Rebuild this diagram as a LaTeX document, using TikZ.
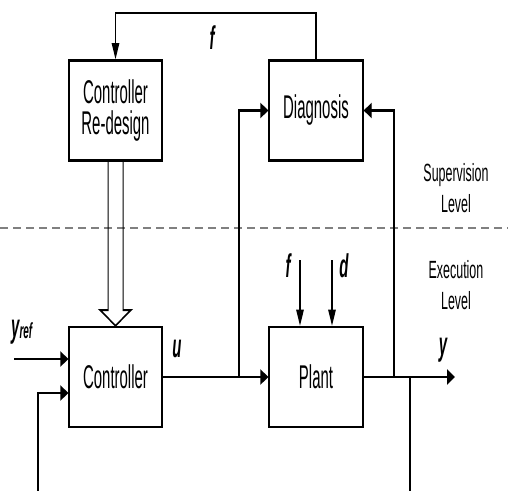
\documentclass[tikz,border=0pt]{standalone}
\usepackage{fontspec}
\setmainfont{Liberation Sans}
\usetikzlibrary{arrows.meta,calc}
\newcommand\stx[1]{\scalebox{1}[1.1]{#1}}
\tikzset{
  x=1bp, y=1bp,
  blk/.style={draw, line width=1.3bp, inner sep=0pt, minimum width=93bp, minimum height=50bp,
    font=\fontsize{15}{15.5}\selectfont, align=center},
  wire/.style={line width=1.3bp},
  arr/.style={wire, -{Triangle[length=8bp,width=7.5bp]}},
  lbl/.style={inner sep=0pt, anchor=base, font=\fontsize{15}{15}\selectfont\bfseries\itshape},
  lvl/.style={inner sep=0pt, align=center, font=\fontsize{12.5}{15.5}\selectfont},
}
\begin{document}
\begin{tikzpicture}
\useasboundingbox[fill=white] (0,0) rectangle (508,-491);
\begin{scope}[transform canvas={yscale=2}]
  % blocks
  \node[blk] (RD) at (115.5,-55.25) {\stx{Controller}\\\stx{Re-design}};
  \node[blk, minimum width=94bp] (DG) at (316,-55.25) {\stx{Diagnosis}};
  \node[blk] (CT) at (115.5,-188.5) {\stx{Controller}};
  \node[blk, minimum width=94bp] (PL) at (316,-188.5) {\stx{Plant}};

  % level separator
  \draw[gray, line width=0.75bp, dash pattern=on 8bp off 5bp] (0,-114) -- (508,-114);
  \node[lvl] (sup) at (456,-94.2) {Supervision\\Level};
  \node[lvl] (exe) at (456,-142.5) {Execution\\Level};

  % top feedback f
  \coordinate (tl) at (0,-6.5);
  \draw[arr] (DG.north) -- (DG.north |- tl) -- (RD.north |- tl) -- (RD.north);
  \node[lbl] (ftop) at (212,-25) {\stx{f}};

  % re-design -> controller (hollow arrow)
  \coordinate (ha) at (0,-155);
  \draw[line width=1bp] ([xshift=-7.5bp]RD.south) -- ([xshift=-7.5bp]RD.south |- ha)
    -- ([xshift=-15.5bp]CT.north |- ha) -- (CT.north) -- ([xshift=15.5bp]CT.north |- ha)
    -- ([xshift=7.5bp]RD.south |- ha) -- ([xshift=7.5bp]RD.south);

  % controller inputs
  \coordinate (yr) at (14,-179.5);
  \draw[arr] (yr) -- (yr -| CT.west);
  \node[lbl, anchor=base west] (yref) at (11,-168.5) {\stx{y\raisebox{-0.6bp}{\fontsize{10}{10}\selectfont ref}}};
  \coordinate (fb) at (38,-245.5);
  \coordinate (fbc) at (38,-196.5);
  \draw[arr] (fb) -- (fbc) -- (fbc -| CT.west);

  % u
  \draw[arr] (CT.east) -- (PL.west);
  \node[lbl] (ulbl) at (177,-178.5) {\stx{u}};
  \coordinate (b1) at (239,-188.5);
  \draw[arr] (b1) |- (DG.west);

  % plant disturbances
  \coordinate (fa) at (300,-130);
  \coordinate (da) at (332,-130);
  \draw[arr] (fa) -- (fa |- PL.north);
  \draw[arr] (da) -- (da |- PL.north);
  \node[lbl] (flbl) at (288,-138.5) {\stx{f}};
  \node[lbl] (dlbl) at (344,-138.5) {\stx{d}};

  % output
  \coordinate (yo) at (455,-188.5);
  \draw[arr] (PL.east) -- (yo);
  \node[lbl] (ylbl) at (443,-177.8) {\stx{y}};
  \coordinate (b2) at (394,-188.5);
  \draw[arr] (b2) |- (DG.east);
  \coordinate (b3) at (410,-188.5);
  \coordinate (b3e) at (410,-245.5);
  \draw[wire] (b3) -- (b3e);
\end{scope}
\end{tikzpicture}
\end{document}
